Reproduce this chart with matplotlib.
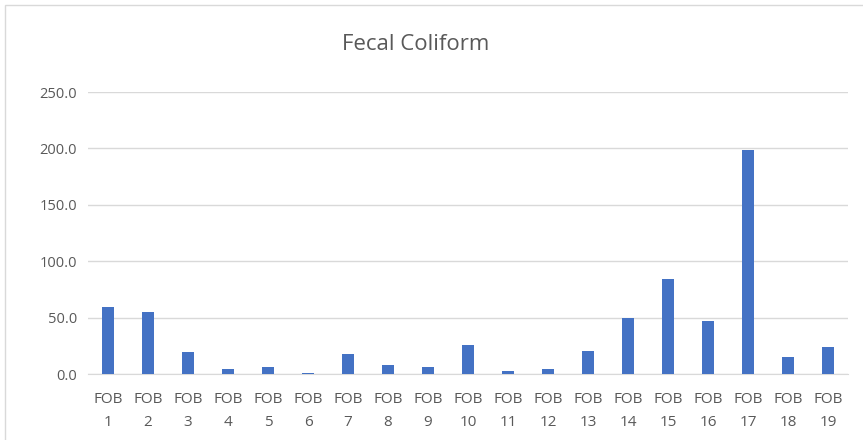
import matplotlib
matplotlib.use("Agg")
from matplotlib import pyplot as plt
import numpy as np

sites = ["FOB\n" + str(i) for i in range(1, 20)]
values = [59.0, 55.0, 19.5, 4.0, 6.0, 1.0, 17.7, 8.0, 6.5, 25.7,
          3.0, 4.4, 20.0, 50.0, 84.0, 46.7, 199.0, 15.4, 23.7]
yticks = [0, 50, 100, 150, 200, 250]

plt.rcParams["font.family"] = ["Open Sans", "DejaVu Sans"]

fig = plt.figure(figsize=(8.63, 4.4), dpi=100)
ax = fig.add_axes([88 / 863, 1 - 374 / 440, 760 / 863, (374 - 92) / 440])

x = np.arange(len(sites))
ax.bar(x, values, width=0.31, color="#4472C4", zorder=3)

ax.set_xlim(-0.5, len(sites) - 0.5)
ax.set_ylim(0, 250)
ax.set_yticks(yticks)
ax.set_yticklabels([f"{v:.1f}" for v in yticks], color="#595959", fontsize=10.5)
ax.set_xticks(x)
ax.set_xticklabels(sites, color="#595959", fontsize=11, linespacing=1.75)
ax.tick_params(axis="x", length=0, pad=13)
ax.tick_params(axis="y", length=0, pad=8)
ax.grid(axis="y", color="#D9D9D9", linewidth=1, zorder=0)
for s in ["top", "right", "left"]:
    ax.spines[s].set_visible(False)
ax.spines["bottom"].set_color("#D9D9D9")

fig.text(416 / 863, 1 - 45 / 440, "Fecal Coliform", ha="center", va="center",
         fontsize=16, color="#595959")

# light frame round the chart
fig.patches.append(plt.Rectangle((5 / 863, -0.01), 1.0, 1 - 5 / 440 + 0.01,
                                 transform=fig.transFigure, fill=False,
                                 edgecolor="#D9D9D9", linewidth=1))

fig.savefig("out.png", dpi=100)
